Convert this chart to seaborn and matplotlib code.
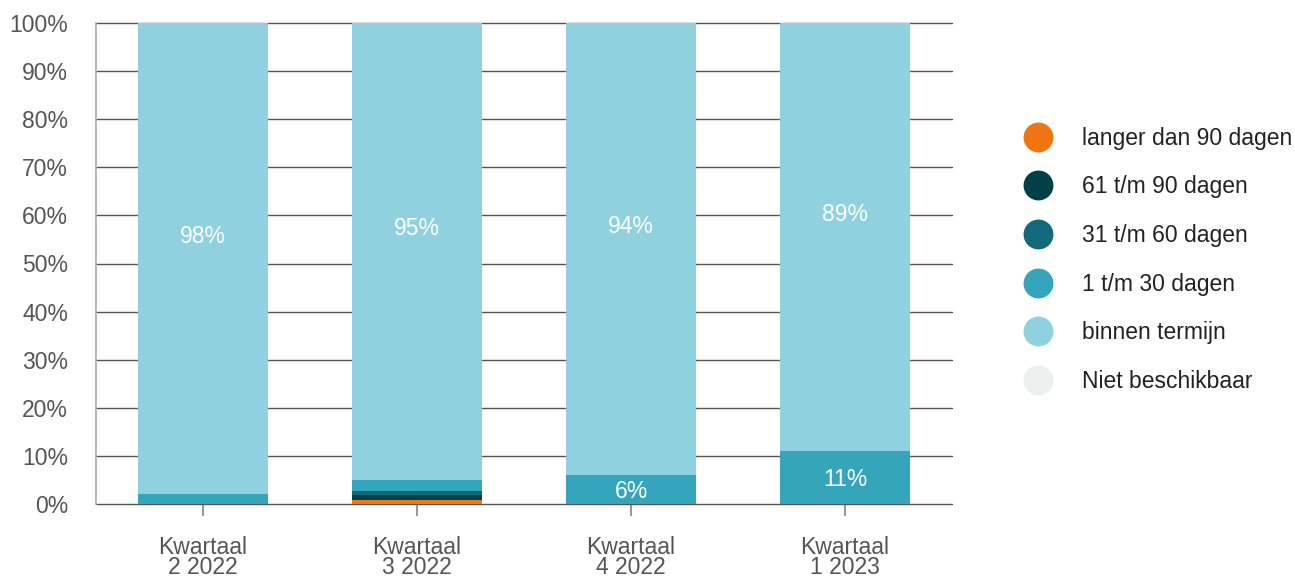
import numpy as np
import pandas as pd
import matplotlib
matplotlib.use("Agg")
import matplotlib.pyplot as plt
from matplotlib.lines import Line2D
import seaborn as sns

sns.set_style("white")
plt.rcParams['font.family'] = ['Liberation Sans', 'DejaVu Sans']

# data
quarters = ["Kwartaal\n2 2022", "Kwartaal\n3 2022", "Kwartaal\n4 2022", "Kwartaal\n1 2023"]
langer_90 = [0.0, 0.8, 0.0, 0.0]
d61_90 = [0.0, 1.0, 0.0, 0.0]
d31_60 = [0.0, 1.0, 0.0, 0.0]
d1_30 = [2.0, 2.2, 6.0, 11.0]
binnen = [98.0, 95.0, 94.0, 89.0]
niet = [0.0, 0.0, 0.0, 0.0]

series_names = ["langer dan 90 dagen", "61 t/m 90 dagen", "31 t/m 60 dagen",
                "1 t/m 30 dagen", "binnen termijn", "Niet beschikbaar"]
series_colors = ["#EF7510", "#023F47", "#12697A", "#34A5BA", "#8FD1DF", "#EEEFEF"]

df = pd.DataFrame({"kwartaal": quarters, series_names[0]: langer_90, series_names[1]: d61_90,
                   series_names[2]: d31_60, series_names[3]: d1_30, series_names[4]: binnen})
stack_cols = series_names[:5]
cum = df[stack_cols].cumsum(axis=1)

FS = 16.5

fig = plt.figure(figsize=(12.95, 5.79), dpi=100)
ax = fig.add_axes([96/1295, 1-504/579, (952-96)/1295, (504-23)/579])

# stacked bars, drawn from the top layer down
for name, color in zip(stack_cols[::-1], series_colors[:5][::-1]):
    sns.barplot(x=df["kwartaal"], y=cum[name], color=color, width=0.607,
                saturation=1, linewidth=0, ax=ax, zorder=3)

# labels
for i in range(len(quarters)):
    bottom = cum[series_names[3]][i]
    ax.text(i, (bottom + 100) / 2 + 4.7, f"{binnen[i]:.0f}%", ha="center", va="center",
            color="white", fontsize=FS, zorder=5)
    if d1_30[i] >= 5:
        ax.text(i, cum[series_names[2]][i] + d1_30[i] / 2 - 0.5, f"{d1_30[i]:.0f}%",
                ha="center", va="center", color="white", fontsize=FS, zorder=5)

ax.set_ylim(0, 100)
ax.set_xlim(-0.5, 3.5)
ax.set_yticks(np.arange(0, 101, 10))
ax.set_yticklabels([f"{v}%" for v in range(0, 101, 10)])
ax.yaxis.grid(True, color="#555555", linewidth=1.0, zorder=0)
ax.set_axisbelow(True)
for gl in ax.get_ygridlines():
    gl.set_clip_on(False)
ax.set_xlabel("")
ax.set_ylabel("")
for s in ["top", "right", "bottom"]:
    ax.spines[s].set_visible(False)
ax.spines["left"].set_color("#AAAAAA")
ax.spines["left"].set_linewidth(1.2)
ax.tick_params(axis="y", length=8, width=1.0, color="#555555", labelcolor="#555555",
               labelsize=FS, pad=12)
ax.tick_params(axis="x", length=8.6, width=1.5, color="#999999", labelcolor="#555555",
               labelsize=FS, pad=14.5, bottom=True)
for lbl in ax.get_xticklabels():
    lbl.set_linespacing(0.84)

handles = [Line2D([0], [0], marker="o", linestyle="", markersize=21.5,
                  markerfacecolor=c, markeredgewidth=0) for c in series_colors]
fig.legend(handles, series_names, loc="center left", bbox_to_anchor=(1023/1295, 1-260/579),
           frameon=False, fontsize=FS, labelspacing=1.12, handlelength=1.3,
           handletextpad=1.27, borderpad=0, borderaxespad=0, labelcolor="#222222")

fig.savefig("out.png", dpi=100)
